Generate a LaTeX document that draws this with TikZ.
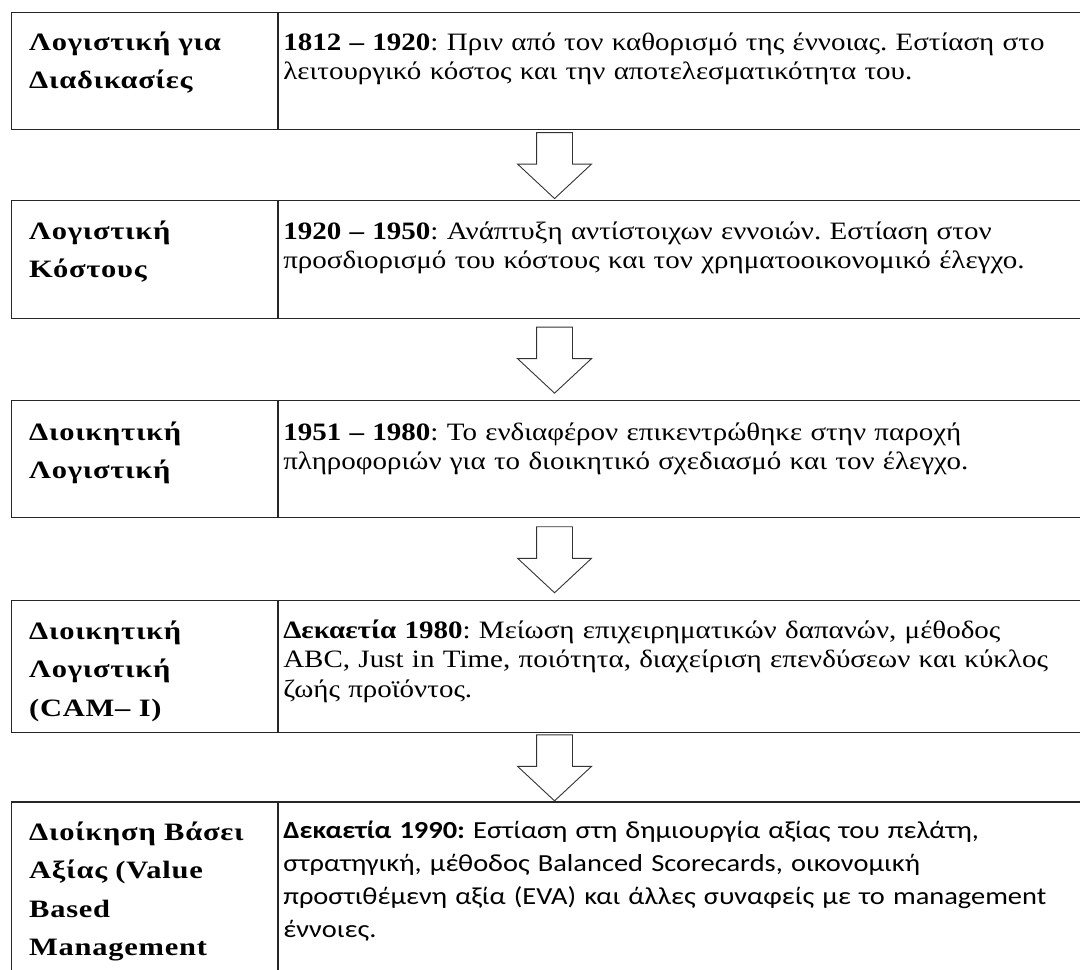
\documentclass[tikz,border=0pt]{standalone}
\usepackage{fontspec}
\setmainfont{Liberation Serif}[FakeStretch=1.16]
\newfontfamily\namefont{Liberation Serif}[FakeStretch=1.22, LetterSpace=3]
\newfontfamily\calfont{Carlito}[FakeStretch=1.16]
\usetikzlibrary{shapes.arrows,positioning,calc}
\frenchspacing

\begin{document}
\begin{tikzpicture}[x=1pt, y=-1pt,
    rowbox/.style={draw=black!85, line width=1.1pt, minimum width=1086pt, inner sep=0pt},
    namecell/.style={draw=black!85, line width=1.1pt, minimum width=266pt, inner sep=0pt, anchor=north west},
    nametext/.style={anchor=base west, inner sep=0pt, text width=250pt, align=left,
        font=\namefont\fontsize{25}{38.5}\selectfont\bfseries},
    infotext/.style={anchor=base west, inner sep=0pt, text width=795pt, align=left,
        font=\fontsize{25}{29.5}\selectfont},
    downarrow/.style={single arrow, draw=black!80, line width=0.9pt, fill=white,
        inner xsep=0pt, inner ysep=17.5pt, single arrow head extend=19pt,
        single arrow tip angle=94, minimum height=66pt, rotate=-90, anchor=tail}
]
\useasboundingbox (0,0) rectangle (1080,970);
\clip (0,0) rectangle (1080,970);

% rows of the table
\node[rowbox, minimum height=117pt, anchor=north west] (row1) at (11,12) {};
\node[rowbox, minimum height=118pt, below=70pt of row1] (row2) {};
\node[rowbox, minimum height=117pt, below=81pt of row2] (row3) {};
\node[rowbox, minimum height=132pt, below=82pt of row3] (row4) {};
\node[rowbox, minimum height=200pt, below=68pt of row4] (row5) {};

% left column
\node[namecell, minimum height=117pt] (name1) at (row1.north west) {};
\node[namecell, minimum height=118pt] (name2) at (row2.north west) {};
\node[namecell, minimum height=117pt] (name3) at (row3.north west) {};
\node[namecell, minimum height=132pt] (name4) at (row4.north west) {};
\node[namecell, minimum height=200pt] (name5) at (row5.north west) {};
\foreach \i in {1,...,5} {
    \draw[line width=1.7pt, black!85] (name\i.north east) -- (name\i.south east);
}

% texts
\node[nametext] (lbl1) at ($(name1.north west)+(18,38)$) {Λογιστική για\\Διαδικασίες};
\node[infotext] (txt1) at ($(name1.north east)+(5,38)$)
    {\textbf{1812 – 1920}: Πριν από τον καθορισμό της έννοιας. Εστίαση στο\\λειτουργικό κόστος και την αποτελεσματικότητα του.};

\node[nametext] (lbl2) at ($(name2.north west)+(18,39)$) {Λογιστική\\Κόστους};
\node[infotext] (txt2) at ($(name2.north east)+(5,39)$)
    {\textbf{1920 – 1950}: Ανάπτυξη αντίστοιχων εννοιών. Εστίαση στον\\προσδιορισμό του κόστους και τον χρηματοοικονομικό έλεγχο.};

\node[nametext] (lbl3) at ($(name3.north west)+(18,40)$) {Διοικητική\\Λογιστική};
\node[infotext] (txt3) at ($(name3.north east)+(5,40)$)
    {\textbf{1951 – 1980}: Το ενδιαφέρον επικεντρώθηκε στην παροχή\\πληροφοριών για το διοικητικό σχεδιασμό και τον έλεγχο.};

\node[nametext] (lbl4) at ($(name4.north west)+(18,39)$) {Διοικητική\\Λογιστική\\(CAM– I)};
\node[infotext] (txt4) at ($(name4.north east)+(5,38)$)
    {\textbf{Δεκαετία 1980}: Μείωση επιχειρηματικών δαπανών, μέθοδος\\ABC, Just in Time, ποιότητα, διαχείριση επενδύσεων και κύκλος\\ζωής προϊόντος.};

\node[nametext] (lbl5) at ($(name5.north west)+(18,39)$) {Διοίκηση Βάσει\\Αξίας (Value\\Based\\Management};
\node[infotext, font=\calfont\fontsize{24.5}{33}\selectfont] (txt5) at ($(name5.north east)+(5,37)$)
    {\textbf{Δεκαετία 1990:} Εστίαση στη δημιουργία αξίας του πελάτη,\\στρατηγική, μέθοδος Balanced Scorecards, οικονομική\\προστιθέμενη αξία (EVA) και άλλες συναφείς με το management\\έννοιες.};

% arrows between rows
\foreach \a/\b [count=\i] in {row1/row2, row2/row3, row3/row4, row4/row5} {
    \node[downarrow] (arr\i) at ($(\a.south)!0.5!(\b.north) + (0,-33)$) {};
}
\end{tikzpicture}
\end{document}
